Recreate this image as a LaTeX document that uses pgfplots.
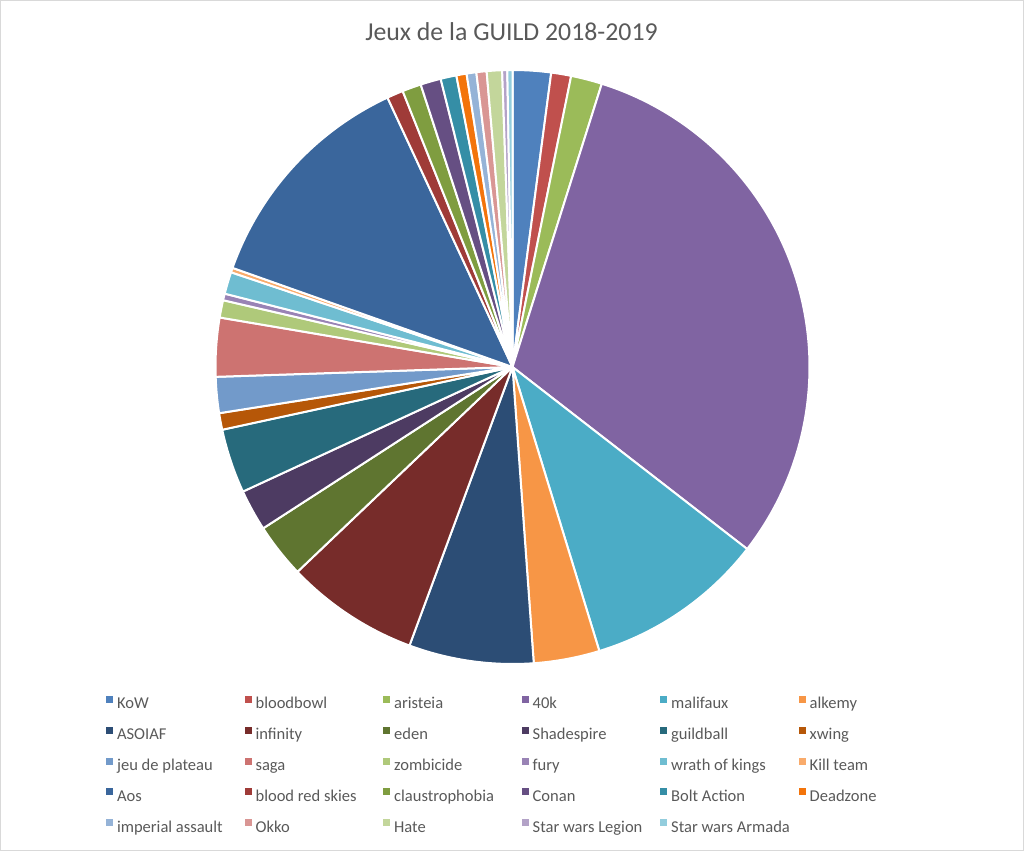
\documentclass[border=0pt]{standalone}
\usepackage{fontspec}
\setmainfont{Carlito}
\usepackage{pgfplots}
\usepackage{pgfplotstable}
\pgfplotsset{compat=1.18}

\definecolor{txtgray}{HTML}{595959}
\definecolor{framegray}{HTML}{D9D9D9}
\definecolor{c1}{HTML}{4F81BD}\definecolor{c2}{HTML}{C0504D}\definecolor{c3}{HTML}{9BBB59}
\definecolor{c4}{HTML}{8064A2}\definecolor{c5}{HTML}{4BACC6}\definecolor{c6}{HTML}{F79646}
\definecolor{c7}{HTML}{2C4D75}\definecolor{c8}{HTML}{772C2A}\definecolor{c9}{HTML}{5F7530}
\definecolor{c10}{HTML}{4D3B62}\definecolor{c11}{HTML}{276A7C}\definecolor{c12}{HTML}{B65708}
\definecolor{c13}{HTML}{729ACA}\definecolor{c14}{HTML}{CD7371}\definecolor{c15}{HTML}{AFC97A}
\definecolor{c16}{HTML}{9983B5}\definecolor{c17}{HTML}{6FBDD1}\definecolor{c18}{HTML}{F9AB6B}
\definecolor{c19}{HTML}{3A669C}\definecolor{c20}{HTML}{9F3B38}\definecolor{c21}{HTML}{7F9D40}
\definecolor{c22}{HTML}{664F83}\definecolor{c23}{HTML}{358EA6}\definecolor{c24}{HTML}{F3740B}
\definecolor{c25}{HTML}{95B3D7}\definecolor{c26}{HTML}{D99694}\definecolor{c27}{HTML}{C3D69B}
\definecolor{c28}{HTML}{B3A2C7}\definecolor{c29}{HTML}{93CDDD}

\pgfplotstableread[col sep=comma]{
name,value,color
KoW,7.5,c1
bloodbowl,3.9,c2
aristeia,6.1,c3
40k,110.3,c4
malifaux,35.2,c5
alkemy,12.9,c6
ASOIAF,24.4,c7
infinity,26.1,c8
eden,10.7,c9
Shadespire,8.1,c10
guildball,12.6,c11
xwing,3.25,c12
jeu de plateau,7.05,c13
saga,11.5,c14
zombicide,3.4,c15
fury,1.3,c16
wrath of kings,4.3,c17
Kill team,0.9,c18
Aos,45.6,c19
blood red skies,3.2,c20
claustrophobia,3.7,c21
Conan,4.0,c22
Bolt Action,3.1,c23
Deadzone,2.0,c24
imperial assault,1.9,c25
Okko,2.0,c26
Hate,3.0,c27
Star wars Legion,1.0,c28
Star wars Armada,1.0,c29
}\piedata

\newcommand\leg[2]{\addlegendimage{#1}\addlegendentry{\makebox[95.6pt][l]{#2}}}

\begin{document}
\begin{tikzpicture}
% cumulative sums of the values
\pgfplotstablegetrowsof{\piedata}
\pgfmathtruncatemacro\lastrow{\pgfplotsretval-1}
\def\total{0}
\pgfplotsforeachungrouped \i in {0,...,\lastrow}{%
  \pgfplotstablegetelem{\i}{value}\of\piedata
  \pgfmathsetmacro\total{\total+\pgfplotsretval}%
}
\def\cum{0}
\pgfplotsforeachungrouped \i in {0,...,\lastrow}{%
  \pgfplotstablegetelem{\i}{value}\of\piedata
  \pgfmathsetmacro\newcum{\cum+\pgfplotsretval}%
  \expandafter\xdef\csname pieS\i\endcsname{\cum}%
  \expandafter\xdef\csname pieE\i\endcsname{\newcum}%
  \global\let\cum\newcum
}
\begin{axis}[
  width=768pt, height=638.25pt, scale only axis,
  xmin=0, xmax=1024, ymin=0, ymax=851,
  hide axis, clip=false,
  legend columns=6,
  legend image code/.code={\fill[#1] (0pt,1.9pt) rectangle (4.5pt,6.4pt);},
  legend style={draw=none, fill=none, inner sep=0pt, outer sep=0pt,
    at={(axis cs:106,155)}, anchor=north west,
    font=\fontsize{12.4pt}{14pt}\selectfont, text=txtgray,
    row sep=10.5pt, column sep=0pt,
    nodes={inner sep=0pt, text height=9pt, text depth=3pt},
    /tikz/every odd column/.append style={column sep=3.4pt}},
  legend cell align=left,
]
\draw[framegray, line width=0.75pt] (axis cs:0.5,0.5) rectangle (axis cs:1023.5,850.5);
\node[anchor=base, text=txtgray, font=\fontsize{19.35pt}{22pt}\selectfont] at (axis cs:511.5,810) {Jeux de la GUILD 2018-2019};
\pgfplotsinvokeforeach{0,...,28}{
  \pgfplotstablegetelem{#1}{color}\of\piedata
  \let\cc\pgfplotsretval
  \pgfmathsetmacro\aS{90-\csname pieS#1\endcsname/\total*360}
  \pgfmathsetmacro\aE{90-\csname pieE#1\endcsname/\total*360}
  \edef\temp{\noexpand\fill[fill=\cc, draw=white, line width=1.5pt, line join=round]
    (axis cs:512.5,484) -- ++(\aS:222.75pt)
    arc[start angle=\aS, end angle=\aE, radius=222.75pt] -- cycle;}
  \temp
}
\leg{c1}{KoW}\leg{c2}{bloodbowl}\leg{c3}{aristeia}\leg{c4}{40k}\leg{c5}{malifaux}\leg{c6}{alkemy}
\leg{c7}{ASOIAF}\leg{c8}{infinity}\leg{c9}{eden}\leg{c10}{Shadespire}\leg{c11}{guildball}\leg{c12}{xwing}
\leg{c13}{jeu de plateau}\leg{c14}{saga}\leg{c15}{zombicide}\leg{c16}{fury}\leg{c17}{wrath of kings}\leg{c18}{Kill team}
\leg{c19}{Aos}\leg{c20}{blood red skies}\leg{c21}{claustrophobia}\leg{c22}{Conan}\leg{c23}{Bolt Action}\leg{c24}{Deadzone}
\leg{c25}{imperial assault}\leg{c26}{Okko}\leg{c27}{Hate}\leg{c28}{Star wars Legion}\leg{c29}{Star wars Armada}
\end{axis}
\end{tikzpicture}
\end{document}
